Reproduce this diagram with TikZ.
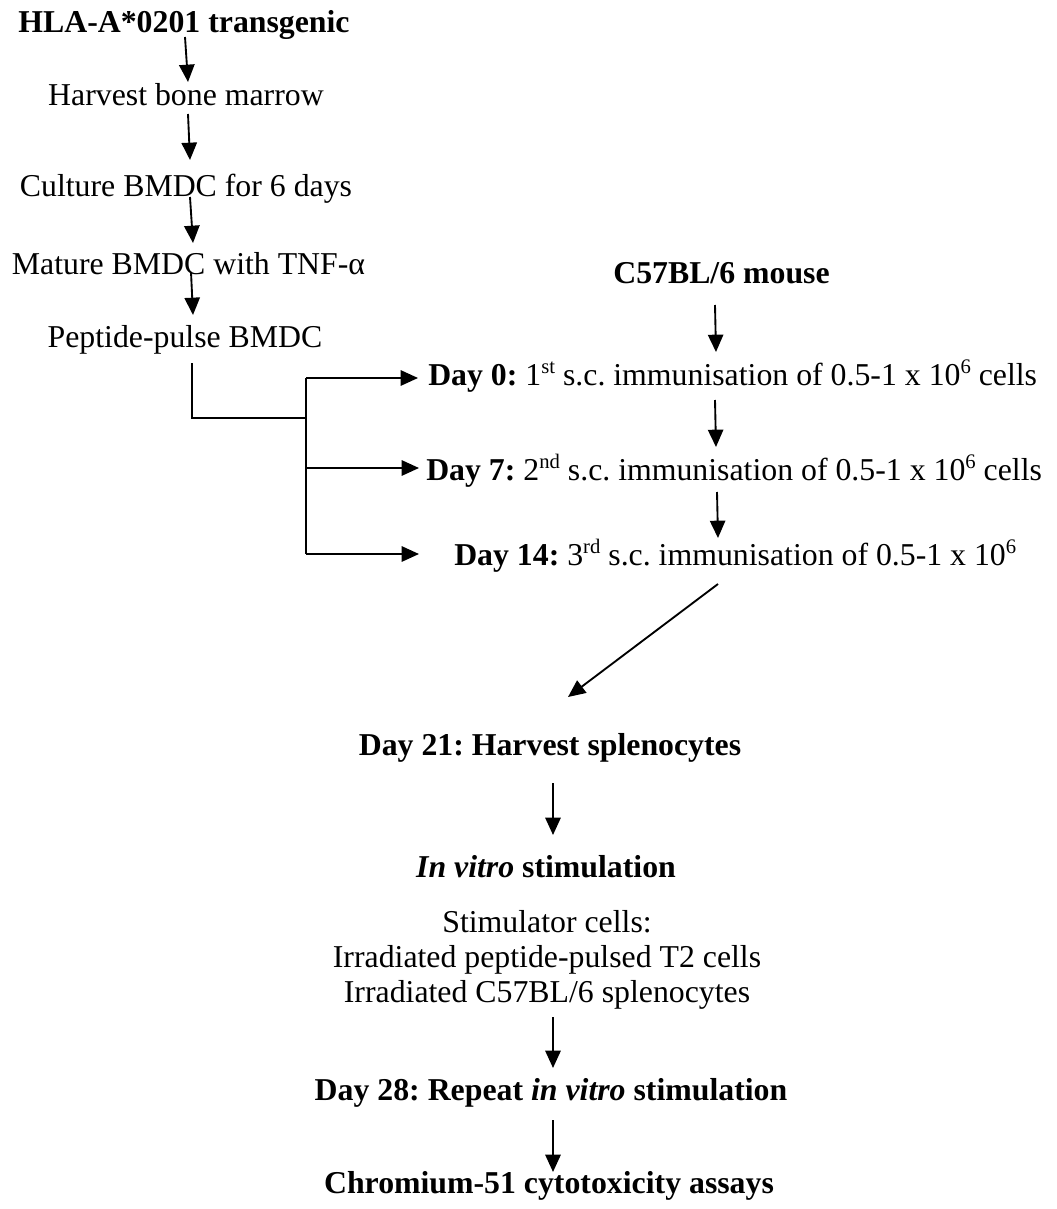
\documentclass[tikz,border=0pt]{standalone}
\usepackage{fontspec}
\setmainfont{Liberation Serif}
\usetikzlibrary{arrows.meta}
\newcommand\mysup[1]{\raisebox{0.36em}{\fontsize{15.5}{16}\selectfont #1}}
\frenchspacing
\begin{document}
\frenchspacing
\begin{tikzpicture}[x=0.75pt,y=-0.75pt,
  txt/.style={inner sep=0pt, anchor=base, font=\fontsize{23.85}{28}\selectfont},
  btxt/.style={inner sep=0pt, anchor=base, font=\fontsize{23.85}{28}\selectfont\bfseries},
  ltxt/.style={inner sep=0pt, anchor=base west, font=\fontsize{23.85}{28}\selectfont},
  arr/.style={line width=1.4pt, -{Triangle[length=13pt,width=11.5pt]}},
  ln/.style={line width=1.4pt}]
\useasboundingbox (0,0) rectangle (1056,1209);

% left column
\node[btxt] (hla) at (184,33) {HLA-A*0201 transgenic};
\node[txt] (harvest) at (186,106) {Harvest bone marrow};
\node[txt] (culture) at (186,196) {Culture BMDC for 6 days};
\node[txt] (mature) at (188.5,274) {Mature BMDC with TNF-α};
\node[txt] (pulse) at (185,347) {Peptide-pulse BMDC};

\coordinate (a1s) at (185,37);  \coordinate (a1e) at (188,82);
\coordinate (a2s) at (188,114); \coordinate (a2e) at (190,160);
\coordinate (a3s) at (190,197); \coordinate (a3e) at (193,243);
\coordinate (a4s) at (191,272); \coordinate (a4e) at (193,315);
\draw[arr] (a1s) -- (a1e);
\draw[arr] (a2s) -- (a2e);
\draw[arr] (a3s) -- (a3e);
\draw[arr] (a4s) -- (a4e);

% right column
\node[btxt] (mouse) at (721.5,283) {C57BL/6 mouse};
\node[ltxt] (day0) at (428,385) {\textbf{Day 0:} 1\mysup{st} s.c. immunisation of 0.5-1 x 10\mysup{6} cells};
\node[ltxt] (day7) at (426,480) {\textbf{Day 7:} 2\mysup{nd} s.c. immunisation of 0.5-1 x 10\mysup{6} cells};
\node[ltxt] (day14) at (454,565) {\textbf{Day 14:} 3\mysup{rd} s.c. immunisation of 0.5-1 x 10\mysup{6}};

\coordinate (m1s) at (715,305); \coordinate (m1e) at (716,352);
\coordinate (m2s) at (715,400); \coordinate (m2e) at (716,447);
\coordinate (m3s) at (717,492); \coordinate (m3e) at (718,538);
\draw[arr] (m1s) -- (m1e);
\draw[arr] (m2s) -- (m2e);
\draw[arr] (m3s) -- (m3e);

% bracket
\coordinate (b0) at (192,363);
\coordinate (b1) at (192,418);
\coordinate (b2) at (306,418);
\coordinate (b3) at (306,378);
\coordinate (b4) at (306,468);
\coordinate (b5) at (306,554);
\coordinate (t0) at (418,378);
\coordinate (t1) at (419,468);
\coordinate (t2) at (419,554);
\draw[ln] (b0) -- (b1) -- (b2);
\draw[ln] (b3) -- (b5);
\draw[arr] (b3) -- (t0);
\draw[arr] (b4) -- (t1);
\draw[arr] (b5) -- (t2);

% lower part
\node[btxt] (d21) at (550,755) {Day 21: Harvest splenocytes};
\node[btxt] (ivs) at (546,877) {\textit{In vitro} stimulation};
\node[txt] (stim1) at (547,932) {Stimulator cells:};
\node[txt] (stim2) at (547,967) {Irradiated peptide-pulsed T2 cells};
\node[txt] (stim3) at (547,1002) {Irradiated C57BL/6 splenocytes};
\node[btxt] (d28) at (551,1100) {Day 28: Repeat \textit{in vitro} stimulation};
\node[btxt] (cr) at (549,1193) {Chromium-51 cytotoxicity assays};

\coordinate (dgs) at (718,584); \coordinate (dge) at (568,697);
\coordinate (l1s) at (553,783); \coordinate (l1e) at (553,835);
\coordinate (l2s) at (553,1017); \coordinate (l2e) at (553,1068);
\coordinate (l3s) at (553,1120); \coordinate (l3e) at (553,1172);
\draw[arr] (dgs) -- (dge);
\draw[arr] (l1s) -- (l1e);
\draw[arr] (l2s) -- (l2e);
\draw[arr] (l3s) -- (l3e);
\end{tikzpicture}
\end{document}
